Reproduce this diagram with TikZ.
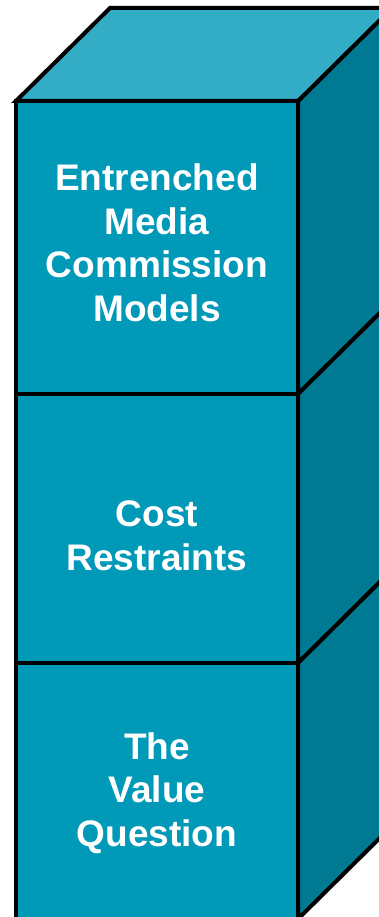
\documentclass[tikz,border=0pt]{standalone}
\usepackage{fontspec}
\setmainfont{Liberation Sans}
\definecolor{frontc}{RGB}{0,153,184}
\definecolor{topc}{RGB}{51,172,198}
\definecolor{sidec}{RGB}{0,122,147}
\begin{document}
\begin{tikzpicture}[x=1pt,y=-1pt,
  face/.style={draw=black,line width=4pt},
  lbl/.style={text=white,font=\fontsize{37}{43.5}\selectfont\bfseries,align=center,inner sep=0pt}]
\useasboundingbox (0,0) rectangle (379,917);
\clip (0,0) rectangle (379,917);
% side faces
\path[face,fill=sidec] (298,101) -- (392,8) -- (392,301) -- (298,394) -- cycle;
\path[face,fill=sidec] (298,394) -- (392,301) -- (392,570) -- (298,663) -- cycle;
\path[face,fill=sidec] (298,663) -- (392,570) -- (392,826) -- (298,919) -- cycle;
% top face
\path[face,fill=topc] (16,101) -- (110,8) -- (392,8) -- (298,101) -- cycle;
% front faces
\path[face,fill=frontc] (16,101) rectangle (298,394);
\path[face,fill=frontc] (16,394) rectangle (298,663);
\path[face,fill=frontc] (16,663) rectangle (298,919);
% labels
\node[lbl] (l1) at (157,243) {Entrenched\\Media\\Commission\\Models};
\node[lbl] (l2) at (157,536) {Cost\\Restraints};
\node[lbl] (l3) at (157,793) {The\\Value\\Question};
\end{tikzpicture}
\end{document}
